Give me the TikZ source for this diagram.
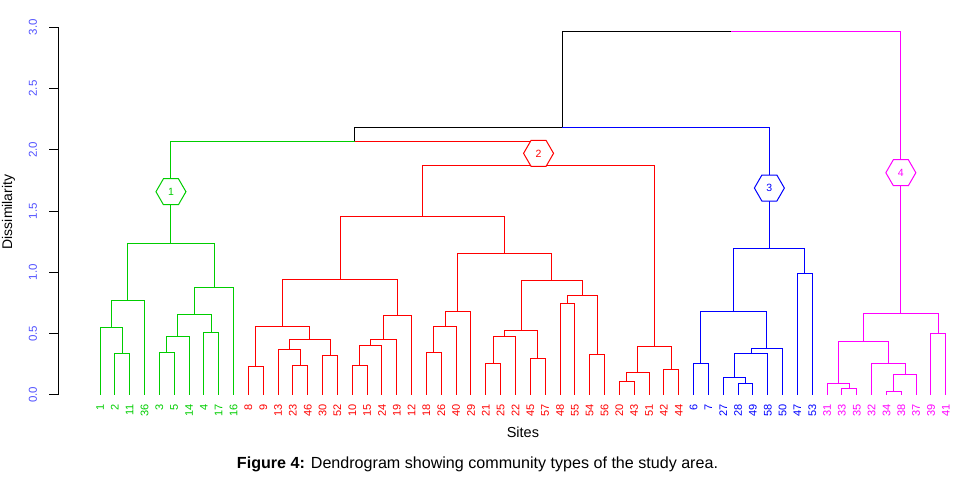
\documentclass[tikz,border=0pt]{standalone}
\usepackage{fontspec}
\setmainfont{Liberation Sans}
\usetikzlibrary{calc,shapes.geometric}
\definecolor{cgreen}{RGB}{0,205,0}
\definecolor{cred}{RGB}{255,0,0}
\definecolor{cblue}{RGB}{0,0,255}
\definecolor{cmag}{RGB}{255,0,255}
\definecolor{axblue}{RGB}{80,80,255}
\newcommand{\dmerge}[6]{%
	\path ($(#2)!0.5!(#3)$) coordinate (#1mid);
	\coordinate (#1) at (#1mid |- 0,#4);
	\draw[#5] (#2) |- (#1);
	\draw[#6] (#1) -| (#3);
}

\begin{document}
\begin{tikzpicture}[x=14.84pt, y=122.6pt, line width=1pt,
		leaf/.style={rotate=90, anchor=east, inner sep=0pt, font=\fontsize{11}{11}\selectfont},
		hexa/.style={regular polygon, regular polygon sides=6, fill=white, minimum size=30pt, inner sep=0pt, font=\fontsize{10.5}{10.5}\selectfont},
		tlab/.style={rotate=90, text=axblue, font=\fontsize{11.5}{12}\selectfont}]
		\useasboundingbox (-5.739, -0.734) rectangle (59.36, 3.222);
		\draw (-1.763, 0) -- (-1.763, 3);
		\foreach \v [count=\k] in {0.0, 0.5, 1.0, 1.5, 2.0, 2.5, 3.0} {
			\draw (-1.763, \v) -- ++(-10pt, 0);
			\node[tlab] (ytick\k) at (-3.515, \v) {\v};
		};
		\node[rotate=90, font=\fontsize{14}{14}\selectfont] (ylab) at (-5.166, 1.493) {Dissimilarity};
		\node[font=\fontsize{14.5}{15}\selectfont] (xlab) at (29.5, -0.302) {Sites};
		\node[font=\fontsize{16.1}{17}\selectfont] (cap) at (26.44, -0.563) {\textbf{Figure 4:} Dendrogram showing community types of the study area.};
		\foreach \s [count=\i] in {1, 2, 11, 36, 3, 5, 14, 4, 17, 16} {
			\coordinate (site\s) at (\i, 0);
			\node[leaf, text=cgreen] (lab\s) at (\i, -0.073) {\s};
		};
		\foreach \s [count=\i from 11] in {8, 9, 13, 23, 46, 30, 52, 10, 15, 24, 19, 12, 18, 26, 40, 29, 21, 25, 22, 45, 57, 48, 55, 54, 56, 20, 43, 51, 42, 44} {
			\coordinate (site\s) at (\i, 0);
			\node[leaf, text=cred] (lab\s) at (\i, -0.073) {\s};
		};
		\foreach \s [count=\i from 41] in {6, 7, 27, 28, 49, 58, 50, 47, 53} {
			\coordinate (site\s) at (\i, 0);
			\node[leaf, text=cblue] (lab\s) at (\i, -0.073) {\s};
		};
		\foreach \s [count=\i from 50] in {31, 33, 35, 32, 34, 38, 37, 39, 41} {
			\coordinate (site\s) at (\i, 0);
			\node[leaf, text=cmag] (lab\s) at (\i, -0.073) {\s};
		};
		\dmerge{ga}{site2}{site11}{0.337}{cgreen}{cgreen}
		\dmerge{gb}{site1}{ga}{0.549}{cgreen}{cgreen}
		\dmerge{gc}{gb}{site36}{0.772}{cgreen}{cgreen}
		\dmerge{gd}{site3}{site5}{0.345}{cgreen}{cgreen}
		\dmerge{ge}{gd}{site14}{0.476}{cgreen}{cgreen}
		\dmerge{gf}{site4}{site17}{0.511}{cgreen}{cgreen}
		\dmerge{gg}{ge}{gf}{0.655}{cgreen}{cgreen}
		\dmerge{gh}{gg}{site16}{0.875}{cgreen}{cgreen}
		\dmerge{gtop}{gc}{gh}{1.234}{cgreen}{cgreen}
		\dmerge{ra}{site8}{site9}{0.231}{cred}{cred}
		\dmerge{rb}{site23}{site46}{0.239}{cred}{cred}
		\dmerge{rc}{site13}{rb}{0.373}{cred}{cred}
		\dmerge{rd}{site30}{site52}{0.326}{cred}{cred}
		\dmerge{re}{rc}{rd}{0.454}{cred}{cred}
		\dmerge{rf}{ra}{re}{0.557}{cred}{cred}
		\dmerge{rg}{site10}{site15}{0.239}{cred}{cred}
		\dmerge{rh}{rg}{site24}{0.405}{cred}{cred}
		\dmerge{ri}{rh}{site19}{0.454}{cred}{cred}
		\dmerge{rj}{ri}{site12}{0.647}{cred}{cred}
		\dmerge{rk}{rf}{rj}{0.946}{cred}{cred}
		\dmerge{rl}{site18}{site26}{0.345}{cred}{cred}
		\dmerge{rm}{rl}{site40}{0.557}{cred}{cred}
		\dmerge{rn}{rm}{site29}{0.683}{cred}{cred}
		\dmerge{ro}{site21}{site25}{0.255}{cred}{cred}
		\dmerge{rp}{ro}{site22}{0.476}{cred}{cred}
		\dmerge{rq}{site45}{site57}{0.294}{cred}{cred}
		\dmerge{rr}{rp}{rq}{0.525}{cred}{cred}
		\dmerge{rs}{site48}{site55}{0.748}{cred}{cred}
		\dmerge{rt}{site54}{site56}{0.329}{cred}{cred}
		\dmerge{ru}{rs}{rt}{0.808}{cred}{cred}
		\dmerge{rv}{rr}{ru}{0.932}{cred}{cred}
		\dmerge{rw}{rn}{rv}{1.153}{cred}{cred}
		\dmerge{rx}{rk}{rw}{1.452}{cred}{cred}
		\dmerge{ry}{site20}{site43}{0.106}{cred}{cred}
		\dmerge{rz}{ry}{site51}{0.185}{cred}{cred}
		\dmerge{raa}{site42}{site44}{0.204}{cred}{cred}
		\dmerge{rbb}{rz}{raa}{0.397}{cred}{cred}
		\dmerge{rtop}{rx}{rbb}{1.870}{cred}{cred}
		\dmerge{ba}{site6}{site7}{0.258}{cblue}{cblue}
		\dmerge{bb}{site28}{site49}{0.095}{cblue}{cblue}
		\dmerge{bc}{site27}{bb}{0.144}{cblue}{cblue}
		\dmerge{bd}{bc}{site58}{0.337}{cblue}{cblue}
		\dmerge{be}{bd}{site50}{0.383}{cblue}{cblue}
		\dmerge{bf}{ba}{be}{0.685}{cblue}{cblue}
		\dmerge{bg}{site47}{site53}{0.993}{cblue}{cblue}
		\dmerge{btop}{bf}{bg}{1.196}{cblue}{cblue}
		\dmerge{ma}{site33}{site35}{0.054}{cmag}{cmag}
		\dmerge{mb}{site31}{ma}{0.095}{cmag}{cmag}
		\dmerge{mc}{site34}{site38}{0.027}{cmag}{cmag}
		\dmerge{md}{mc}{site37}{0.169}{cmag}{cmag}
		\dmerge{me}{site32}{md}{0.255}{cmag}{cmag}
		\dmerge{mf}{mb}{me}{0.435}{cmag}{cmag}
		\dmerge{mg}{site39}{site41}{0.503}{cmag}{cmag}
		\dmerge{mtop}{mf}{mg}{0.666}{cmag}{cmag}
		\dmerge{ka}{gtop}{rtop}{2.068}{cgreen}{cred}
		\dmerge{kb}{ka}{btop}{2.184}{black}{cblue}
		\dmerge{kc}{kb}{mtop}{2.963}{black}{cmag}
		\node[hexa, draw=cgreen, text=cgreen] (hx1) at (gtop |- 0,1.658) {1};
		\node[hexa, draw=cred, text=cred] (hx2) at (rtop |- 0,1.971) {2};
		\node[hexa, draw=cblue, text=cblue] (hx3) at (btop |- 0,1.688) {3};
		\node[hexa, draw=cmag, text=cmag] (hx4) at (mtop |- 0,1.813) {4};
	\end{tikzpicture}
\end{document}
